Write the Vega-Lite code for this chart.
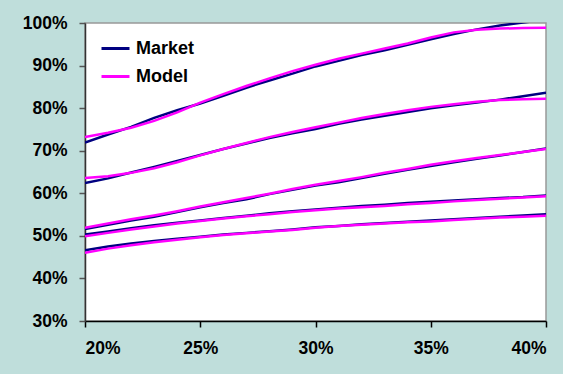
{
  "$schema": "https://vega.github.io/schema/vega-lite/v6.json",
  "width": 461,
  "height": 298,
  "autosize": {"type": "none"},
  "padding": {"left": 85, "top": 23, "right": 17, "bottom": 53},
  "background": "#BFDEDB",
  "config": {
    "view": {"fill": "white", "stroke": "#999999", "strokeWidth": 1.5},
    "font": "Liberation Sans",
    "axis": {"grid": false, "labelFont": "Liberation Sans", "labelFontWeight": "bold", "labelFontSize": 17.5, "labelColor": "black", "domainColor": "black", "domainWidth": 1.5, "tickColor": "#555555", "tickWidth": 1.5, "tickSize": 6, "title": null}
  },
  "datasets": {
    "curves": [
      {"x":20,"c":1,"s":"Market","v":71.9},{"x":21,"c":1,"s":"Market","v":73.8},{"x":22,"c":1,"s":"Market","v":75.6},{"x":23,"c":1,"s":"Market","v":77.7},{"x":24,"c":1,"s":"Market","v":79.5},{"x":25,"c":1,"s":"Market","v":81.1},{"x":26,"c":1,"s":"Market","v":82.9},{"x":27,"c":1,"s":"Market","v":84.8},{"x":28,"c":1,"s":"Market","v":86.5},{"x":29,"c":1,"s":"Market","v":88.1},{"x":30,"c":1,"s":"Market","v":89.8},{"x":31,"c":1,"s":"Market","v":91.1},{"x":32,"c":1,"s":"Market","v":92.5},{"x":33,"c":1,"s":"Market","v":93.6},{"x":34,"c":1,"s":"Market","v":94.9},{"x":35,"c":1,"s":"Market","v":96.2},{"x":36,"c":1,"s":"Market","v":97.4},{"x":37,"c":1,"s":"Market","v":98.5},{"x":38,"c":1,"s":"Market","v":99.4},{"x":39,"c":1,"s":"Market","v":100.1},{"x":40,"c":1,"s":"Market","v":100.8},
      {"x":20,"c":2,"s":"Market","v":62.4},{"x":21,"c":2,"s":"Market","v":63.5},{"x":22,"c":2,"s":"Market","v":64.9},{"x":23,"c":2,"s":"Market","v":66.2},{"x":24,"c":2,"s":"Market","v":67.6},{"x":25,"c":2,"s":"Market","v":69.0},{"x":26,"c":2,"s":"Market","v":70.4},{"x":27,"c":2,"s":"Market","v":71.7},{"x":28,"c":2,"s":"Market","v":73.0},{"x":29,"c":2,"s":"Market","v":74.1},{"x":30,"c":2,"s":"Market","v":75.1},{"x":31,"c":2,"s":"Market","v":76.3},{"x":32,"c":2,"s":"Market","v":77.3},{"x":33,"c":2,"s":"Market","v":78.2},{"x":34,"c":2,"s":"Market","v":79.1},{"x":35,"c":2,"s":"Market","v":80.0},{"x":36,"c":2,"s":"Market","v":80.7},{"x":37,"c":2,"s":"Market","v":81.3},{"x":38,"c":2,"s":"Market","v":82.0},{"x":39,"c":2,"s":"Market","v":82.8},{"x":40,"c":2,"s":"Market","v":83.6},
      {"x":20,"c":3,"s":"Market","v":51.6},{"x":21,"c":3,"s":"Market","v":52.6},{"x":22,"c":3,"s":"Market","v":53.6},{"x":23,"c":3,"s":"Market","v":54.5},{"x":24,"c":3,"s":"Market","v":55.6},{"x":25,"c":3,"s":"Market","v":56.7},{"x":26,"c":3,"s":"Market","v":57.7},{"x":27,"c":3,"s":"Market","v":58.6},{"x":28,"c":3,"s":"Market","v":59.8},{"x":29,"c":3,"s":"Market","v":60.8},{"x":30,"c":3,"s":"Market","v":61.8},{"x":31,"c":3,"s":"Market","v":62.6},{"x":32,"c":3,"s":"Market","v":63.6},{"x":33,"c":3,"s":"Market","v":64.6},{"x":34,"c":3,"s":"Market","v":65.5},{"x":35,"c":3,"s":"Market","v":66.4},{"x":36,"c":3,"s":"Market","v":67.3},{"x":37,"c":3,"s":"Market","v":68.1},{"x":38,"c":3,"s":"Market","v":68.9},{"x":39,"c":3,"s":"Market","v":69.7},{"x":40,"c":3,"s":"Market","v":70.5},
      {"x":20,"c":4,"s":"Market","v":50.3},{"x":21,"c":4,"s":"Market","v":51.0},{"x":22,"c":4,"s":"Market","v":51.8},{"x":23,"c":4,"s":"Market","v":52.5},{"x":24,"c":4,"s":"Market","v":53.1},{"x":25,"c":4,"s":"Market","v":53.6},{"x":26,"c":4,"s":"Market","v":54.2},{"x":27,"c":4,"s":"Market","v":54.7},{"x":28,"c":4,"s":"Market","v":55.3},{"x":29,"c":4,"s":"Market","v":55.8},{"x":30,"c":4,"s":"Market","v":56.2},{"x":31,"c":4,"s":"Market","v":56.6},{"x":32,"c":4,"s":"Market","v":57.0},{"x":33,"c":4,"s":"Market","v":57.3},{"x":34,"c":4,"s":"Market","v":57.7},{"x":35,"c":4,"s":"Market","v":58.0},{"x":36,"c":4,"s":"Market","v":58.3},{"x":37,"c":4,"s":"Market","v":58.6},{"x":38,"c":4,"s":"Market","v":58.9},{"x":39,"c":4,"s":"Market","v":59.1},{"x":40,"c":4,"s":"Market","v":59.5},
      {"x":20,"c":5,"s":"Market","v":46.6},{"x":21,"c":5,"s":"Market","v":47.5},{"x":22,"c":5,"s":"Market","v":48.2},{"x":23,"c":5,"s":"Market","v":48.8},{"x":24,"c":5,"s":"Market","v":49.3},{"x":25,"c":5,"s":"Market","v":49.8},{"x":26,"c":5,"s":"Market","v":50.3},{"x":27,"c":5,"s":"Market","v":50.7},{"x":28,"c":5,"s":"Market","v":51.1},{"x":29,"c":5,"s":"Market","v":51.5},{"x":30,"c":5,"s":"Market","v":52.0},{"x":31,"c":5,"s":"Market","v":52.3},{"x":32,"c":5,"s":"Market","v":52.7},{"x":33,"c":5,"s":"Market","v":53.0},{"x":34,"c":5,"s":"Market","v":53.3},{"x":35,"c":5,"s":"Market","v":53.6},{"x":36,"c":5,"s":"Market","v":53.9},{"x":37,"c":5,"s":"Market","v":54.2},{"x":38,"c":5,"s":"Market","v":54.5},{"x":39,"c":5,"s":"Market","v":54.8},{"x":40,"c":5,"s":"Market","v":55.1},
      {"x":20,"c":1,"s":"Model","v":73.2},{"x":21,"c":1,"s":"Model","v":74.2},{"x":22,"c":1,"s":"Model","v":75.4},{"x":23,"c":1,"s":"Model","v":77.0},{"x":24,"c":1,"s":"Model","v":79.0},{"x":25,"c":1,"s":"Model","v":81.3},{"x":26,"c":1,"s":"Model","v":83.3},{"x":27,"c":1,"s":"Model","v":85.2},{"x":28,"c":1,"s":"Model","v":87.0},{"x":29,"c":1,"s":"Model","v":88.7},{"x":30,"c":1,"s":"Model","v":90.2},{"x":31,"c":1,"s":"Model","v":91.6},{"x":32,"c":1,"s":"Model","v":92.8},{"x":33,"c":1,"s":"Model","v":94.0},{"x":34,"c":1,"s":"Model","v":95.2},{"x":35,"c":1,"s":"Model","v":96.6},{"x":36,"c":1,"s":"Model","v":97.8},{"x":37,"c":1,"s":"Model","v":98.4},{"x":38,"c":1,"s":"Model","v":98.7},{"x":39,"c":1,"s":"Model","v":98.8},{"x":40,"c":1,"s":"Model","v":98.9},
      {"x":20,"c":2,"s":"Model","v":63.6},{"x":21,"c":2,"s":"Model","v":64.0},{"x":22,"c":2,"s":"Model","v":64.8},{"x":23,"c":2,"s":"Model","v":65.9},{"x":24,"c":2,"s":"Model","v":67.3},{"x":25,"c":2,"s":"Model","v":68.9},{"x":26,"c":2,"s":"Model","v":70.4},{"x":27,"c":2,"s":"Model","v":71.8},{"x":28,"c":2,"s":"Model","v":73.2},{"x":29,"c":2,"s":"Model","v":74.4},{"x":30,"c":2,"s":"Model","v":75.5},{"x":31,"c":2,"s":"Model","v":76.6},{"x":32,"c":2,"s":"Model","v":77.7},{"x":33,"c":2,"s":"Model","v":78.6},{"x":34,"c":2,"s":"Model","v":79.5},{"x":35,"c":2,"s":"Model","v":80.3},{"x":36,"c":2,"s":"Model","v":80.9},{"x":37,"c":2,"s":"Model","v":81.5},{"x":38,"c":2,"s":"Model","v":81.9},{"x":39,"c":2,"s":"Model","v":82.1},{"x":40,"c":2,"s":"Model","v":82.2},
      {"x":20,"c":3,"s":"Model","v":51.9},{"x":21,"c":3,"s":"Model","v":52.9},{"x":22,"c":3,"s":"Model","v":53.9},{"x":23,"c":3,"s":"Model","v":54.8},{"x":24,"c":3,"s":"Model","v":55.8},{"x":25,"c":3,"s":"Model","v":56.9},{"x":26,"c":3,"s":"Model","v":57.9},{"x":27,"c":3,"s":"Model","v":58.9},{"x":28,"c":3,"s":"Model","v":59.9},{"x":29,"c":3,"s":"Model","v":61.0},{"x":30,"c":3,"s":"Model","v":62.0},{"x":31,"c":3,"s":"Model","v":62.9},{"x":32,"c":3,"s":"Model","v":63.8},{"x":33,"c":3,"s":"Model","v":64.8},{"x":34,"c":3,"s":"Model","v":65.7},{"x":35,"c":3,"s":"Model","v":66.7},{"x":36,"c":3,"s":"Model","v":67.5},{"x":37,"c":3,"s":"Model","v":68.3},{"x":38,"c":3,"s":"Model","v":69.0},{"x":39,"c":3,"s":"Model","v":69.7},{"x":40,"c":3,"s":"Model","v":70.4},
      {"x":20,"c":4,"s":"Model","v":49.9},{"x":21,"c":4,"s":"Model","v":50.7},{"x":22,"c":4,"s":"Model","v":51.5},{"x":23,"c":4,"s":"Model","v":52.2},{"x":24,"c":4,"s":"Model","v":52.9},{"x":25,"c":4,"s":"Model","v":53.5},{"x":26,"c":4,"s":"Model","v":54.1},{"x":27,"c":4,"s":"Model","v":54.6},{"x":28,"c":4,"s":"Model","v":55.1},{"x":29,"c":4,"s":"Model","v":55.6},{"x":30,"c":4,"s":"Model","v":56.0},{"x":31,"c":4,"s":"Model","v":56.4},{"x":32,"c":4,"s":"Model","v":56.7},{"x":33,"c":4,"s":"Model","v":57.0},{"x":34,"c":4,"s":"Model","v":57.4},{"x":35,"c":4,"s":"Model","v":57.7},{"x":36,"c":4,"s":"Model","v":58.1},{"x":37,"c":4,"s":"Model","v":58.4},{"x":38,"c":4,"s":"Model","v":58.7},{"x":39,"c":4,"s":"Model","v":59.0},{"x":40,"c":4,"s":"Model","v":59.3},
      {"x":20,"c":5,"s":"Model","v":46.0},{"x":21,"c":5,"s":"Model","v":47.0},{"x":22,"c":5,"s":"Model","v":47.8},{"x":23,"c":5,"s":"Model","v":48.5},{"x":24,"c":5,"s":"Model","v":49.1},{"x":25,"c":5,"s":"Model","v":49.7},{"x":26,"c":5,"s":"Model","v":50.2},{"x":27,"c":5,"s":"Model","v":50.6},{"x":28,"c":5,"s":"Model","v":51.0},{"x":29,"c":5,"s":"Model","v":51.4},{"x":30,"c":5,"s":"Model","v":51.9},{"x":31,"c":5,"s":"Model","v":52.3},{"x":32,"c":5,"s":"Model","v":52.6},{"x":33,"c":5,"s":"Model","v":52.9},{"x":34,"c":5,"s":"Model","v":53.2},{"x":35,"c":5,"s":"Model","v":53.4},{"x":36,"c":5,"s":"Model","v":53.7},{"x":37,"c":5,"s":"Model","v":54.0},{"x":38,"c":5,"s":"Model","v":54.3},{"x":39,"c":5,"s":"Model","v":54.5},{"x":40,"c":5,"s":"Model","v":54.7}
    ]
  },
  "data": {"name": "curves"},
  "encoding": {
    "x": {"field": "x", "type": "quantitative", "scale": {"domain": [20, 40], "nice": false},
      "axis": {"values": [20, 25, 30, 35, 40], "labelExpr": "datum.value + '%'", "labelPadding": 12, "tickColor": "black"}},
    "y": {"field": "v", "type": "quantitative", "scale": {"domain": [30, 100], "nice": false},
      "axis": {"values": [30, 40, 50, 60, 70, 80, 90, 100], "labelExpr": "datum.value + '%'", "labelPadding": 12, "domainColor": "#333333"}},
    "color": {"field": "s", "type": "nominal", "scale": {"domain": ["Market", "Model"], "range": ["#000080", "#FF00FF"]},
      "legend": {"title": null, "orient": "none", "legendX": 15, "legendY": 10, "symbolType": "stroke", "symbolSize": 784, "symbolStrokeWidth": 3, "labelFontSize": 18, "labelFontWeight": "bold", "labelFont": "Liberation Sans", "labelColor": "black", "labelOffset": 5, "rowPadding": 3, "padding": 0}},
    "detail": {"field": "c", "type": "nominal"}
  },
  "layer": [
    {"transform": [{"filter": "datum.s == 'Market'"}], "mark": {"type": "line", "strokeWidth": 2.5, "clip": true}},
    {"transform": [{"filter": "datum.s == 'Model'"}], "mark": {"type": "line", "strokeWidth": 2.5, "clip": true}}
  ]
}
